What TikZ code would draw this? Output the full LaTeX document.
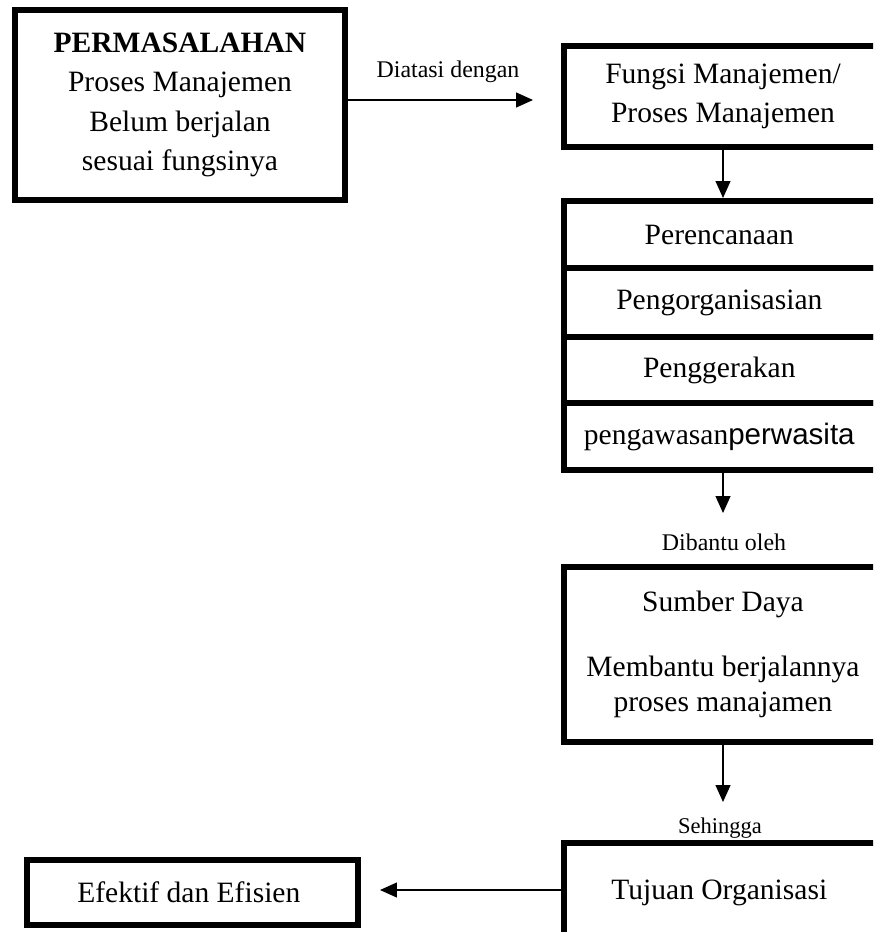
\documentclass[tikz,border=0pt]{standalone}
\usepackage{fontspec}
\setmainfont{Liberation Serif}
\newfontfamily\arialfont{Liberation Sans}
\usetikzlibrary{arrows.meta}

\tikzset{
  box/.style={draw, line width=0.15cm, align=center, inner sep=0pt,
    font=\fontsize{21}{28}\selectfont},
  cell/.style={box, minimum width=7.95cm},
  link/.style={line width=0.9pt, -{Triangle[length=0.42cm, width=0.37cm]}},
  note/.style={font=\fontsize{17}{20}\selectfont, inner sep=0pt}
}

\begin{document}
\begin{tikzpicture}[x=0.025cm, y=-0.025cm]
  \useasboundingbox (0, 0) rectangle (873, 932);
  \clip (0, 0) rectangle (873, 932);

  % problem box
  \node [box, minimum width=8.25cm, minimum height=4.75cm] (masalah) at (180, 105)
  { \textbf{PERMASALAHAN}\\ Proses Manajemen\\ Belum berjalan\\ sesuai fungsinya };

  \node [box, minimum width=7.95cm, minimum height=2.525cm] (fungsi) at (723, 96.5)
  { Fungsi Manajemen/\\ Proses Manajemen };

  % management functions
  \node [cell, minimum height=1.675cm] (rencana) at (723, 234.5) { Perencanaan };
  \node [cell, minimum height=1.725cm] (organisasi) at (723, 302.5) { Pengorganisasian };
  \node [cell, minimum height=1.65cm] (gerak) at (723, 370) { Penggerakan };
  \node [cell, minimum height=1.675cm] (awas) at (723, 436.5)
  { pengawasan{\arialfont perwasita} };

  \node [box, minimum width=7.95cm, minimum height=4.375cm] (sumber) at (723, 654.5)
  { Sumber Daya\\[18pt] Membantu berjalannya\\[-3pt] proses manajamen };

  \node [box, minimum width=7.95cm, minimum height=2.5cm] (tujuan) at (723, 893)
  { Tujuan Organisasi };

  \node [box, minimum width=8.275cm, minimum height=1.625cm] (efektif) at (192.5, 892.5)
  { Efektif dan Efisien };

  % labels
  \node [note] (diatasi) at (448, 72) { Diatasi dengan };
  \node [note] (dibantu) at (724, 542) { Dibantu oleh };
  \node [note, font=\fontsize{16}{19}\selectfont] (sehingga) at (720, 828) { Sehingga };

  % arrows
  \coordinate (ujung1) at (533, 100);
  \coordinate (ujung3) at (723, 513);
  \coordinate (ujung4) at (723, 802);
  \coordinate (ujung5) at (380, 890);

  \draw [link] (masalah.east |- ujung1) -- (ujung1);
  \draw [link] (fungsi.south) -- (rencana.north);
  \draw [link] (awas.south) -- (ujung3);
  \draw [link] (sumber.south) -- (ujung4);
  \draw [link] (tujuan.west |- ujung5) -- (ujung5);
\end{tikzpicture}
\end{document}
